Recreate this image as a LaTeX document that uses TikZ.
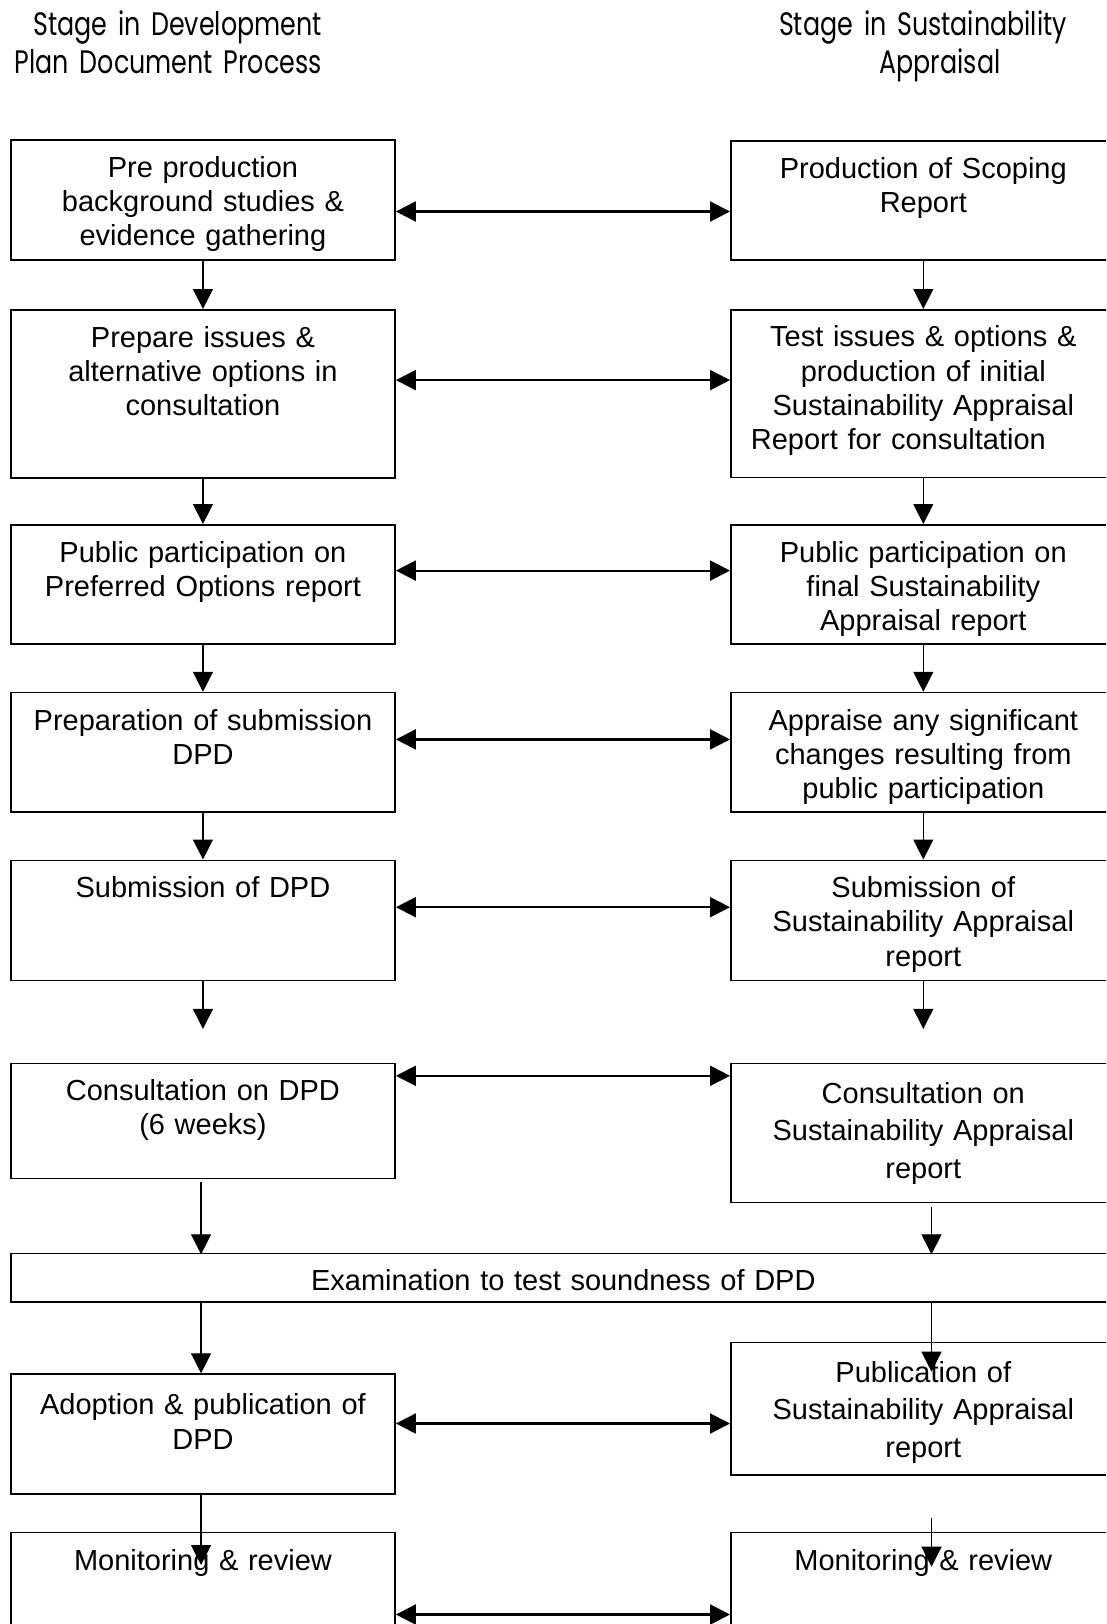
\documentclass[tikz,border=0pt]{standalone}
\usepackage{fontspec}
\setmainfont{Liberation Sans}
\newfontfamily\headfont{Poppins}[FakeStretch=0.78]
\usetikzlibrary{
  arrows.meta % for arrow tips
}
\newcommand{\boxfont}{\fontsize{29pt}{34.2pt}\selectfont}
\newcommand{\boxfontwide}{\fontsize{29pt}{37.3pt}\selectfont}
\tikzstyle{stagebox} = [rectangle, draw, line width=1.6pt, inner sep=0pt, align=center, anchor=north west, text height=37.4pt, font=\boxfont]
\tikzstyle{dpdstep}=[stagebox, text width=384.3pt]
\tikzstyle{sastep}=[stagebox, text width=385pt]
\tikzstyle{header}=[inner sep=0pt, font=\headfont\fontsize{32.5pt}{38pt}\selectfont]
\tikzstyle{downarrow}=[line width=1.3pt, -{Triangle[length=20pt,width=20pt]}]
\tikzstyle{biarrow}=[line width=2.2pt, {Triangle[length=20pt,width=20pt]}-{Triangle[length=20pt,width=20pt]}]

\begin{document}
\begin{tikzpicture}[x=1pt,y=-1pt]
\path[use as bounding box, fill=white] (0,0) rectangle (1106,1624);
\clip (0,0) rectangle (1106,1624); % boxes run off the page

% column headers
\node[header, text width=313pt, align=right, anchor=base east] (dpdhead) at (322,36) {Stage in Development\\Plan Document Process};
\node[header, text width=330pt, align=center, anchor=base] (sahead) at (923,36) {Stage in Sustainability\\\rule{34pt}{0pt}Appraisal};

% development plan document steps
\node[dpdstep, text depth=82.6pt] (dpdA) at (10,139.3) {Pre production\\background studies \&\\evidence gathering};
\node[dpdstep, text depth=130.6pt] (dpdB) at (10,309) {Prepare issues \&\\alternative options in\\consultation};
\node[dpdstep, text depth=81.7pt] (dpdC) at (10,524) {Public participation on\\Preferred Options report};
\node[dpdstep, text depth=81.7pt] (dpdD) at (10,691.8) {Preparation of submission\\DPD};
\node[dpdstep, text depth=82.6pt] (dpdE) at (10,859.5) {Submission of DPD};
\node[dpdstep, text height=36.6pt, text depth=78.4pt] (dpdF) at (10,1062.7) {Consultation on DPD\\(6 weeks)};
\node[dpdstep, text height=40.7pt, text depth=79.3pt] (dpdG) at (10,1373.3) {Adoption \& publication of\\DPD};
\node[dpdstep, text height=37.6pt, text depth=120pt] (dpdH) at (10,1531.7) {Monitoring \& review};

% sustainability appraisal steps
\node[sastep, text depth=81.9pt] (saA) at (730,140) {Production of Scoping\\Report};
\node[sastep, text height=37pt, text depth=130.7pt] (saB) at (730,309) {Test issues \& options \&\\production of initial\\Sustainability Appraisal\\Report for consultation\rule{50pt}{0pt}};
\node[sastep, text depth=81.7pt] (saC) at (730,524) {Public participation on\\final Sustainability\\Appraisal report};
\node[sastep, text depth=81.7pt] (saD) at (730,691.8) {Appraise any significant\\changes resulting from\\public participation};
\node[sastep, text depth=82.6pt] (saE) at (730,859.5) {Submission of\\Sustainability Appraisal\\report};
\node[sastep, text height=40pt, text depth=99pt, font=\boxfontwide] (saF) at (730,1062.7) {Consultation on\\Sustainability Appraisal\\report};
\node[sastep, text height=40pt, text depth=92.3pt, font=\boxfontwide] (saG) at (730,1341.7) {Publication of\\Sustainability Appraisal\\report};
\node[sastep, text height=37.6pt, text depth=120pt] (saH) at (730,1531.7) {Monitoring \& review};

% shared step
\node[stagebox, text width=1105pt, text height=37.3pt, text depth=11pt] (exam) at (10,1252.7) {Examination to test soundness of DPD};

% loose arrow ends
\coordinate (dpdEend) at ([yshift=-47.8pt]dpdE.south);
\coordinate (saEend) at ([yshift=-47.8pt]saE.south);
\coordinate (saGstart) at ([xshift=8.2pt,yshift=13.4pt]saH.north);
\coordinate (saGend) at ([xshift=8.2pt,yshift=-35pt]saH.north);

% down the columns
\draw[downarrow] (dpdA) -- (dpdB);
\draw[downarrow] (dpdB) -- (dpdC);
\draw[downarrow] (dpdC) -- (dpdD);
\draw[downarrow] (dpdD) -- (dpdE);
\draw[downarrow] (dpdE) -- (dpdEend);
\draw[downarrow] (saA) -- (saB);
\draw[downarrow] (saB) -- (saC);
\draw[downarrow] (saC) -- (saD);
\draw[downarrow] (saD) -- (saE);
\draw[downarrow] (saE) -- (saEend);
\draw[downarrow] ([xshift=-1.9pt,yshift=-3pt]dpdF.south) -- ([xshift=-1.9pt,yshift=-75pt]dpdF.south);
\draw[downarrow] ([xshift=8.2pt,yshift=-3.3pt]saF.south) -- ([xshift=8.2pt,yshift=-51pt]saF.south);
\draw[downarrow] ([xshift=-1.9pt,yshift=72.3pt]dpdG.north) -- ([xshift=-1.9pt]dpdG.north);
\draw[downarrow] ([xshift=8.2pt,yshift=40.7pt]saG.north) -- ([xshift=8.2pt,yshift=-30pt]saG.north);
\draw[downarrow] ([xshift=-1.9pt]dpdG.south) -- ([xshift=-1.9pt,yshift=-33.3pt]dpdH.north);
\draw[downarrow] (saGstart) -- (saGend);

% across between the two processes
\draw[biarrow] ([yshift=-72.2pt]dpdA.north east) -- ([yshift=-71.5pt]saA.north west);
\draw[biarrow] ([yshift=-71.1pt]dpdB.north east) -- ([yshift=-71.1pt]saB.north west);
\draw[biarrow] ([yshift=-46.6pt]dpdC.north east) -- ([yshift=-46.6pt]saC.north west);
\draw[biarrow] ([yshift=-47.6pt]dpdD.north east) -- ([yshift=-47.6pt]saD.north west);
\draw[biarrow] ([yshift=-47.7pt]dpdE.north east) -- ([yshift=-47.7pt]saE.north west);
\draw[biarrow] ([yshift=-13.1pt]dpdF.north east) -- ([yshift=-13.1pt]saF.north west);
\draw[biarrow] ([yshift=-50.2pt]dpdG.north east) -- ([yshift=-81.8pt]saG.north west);
\draw[biarrow] ([yshift=-82.8pt]dpdH.north east) -- ([yshift=-82.8pt]saH.north west);
\end{tikzpicture}
\end{document}
